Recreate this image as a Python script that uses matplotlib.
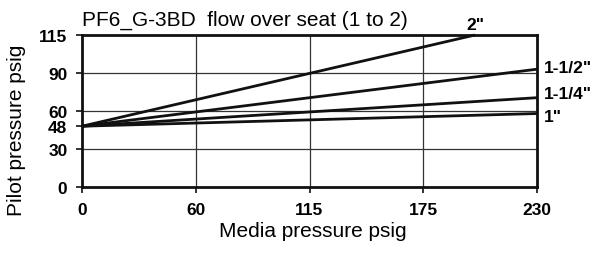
import numpy as np
import matplotlib
matplotlib.use('Agg')
import matplotlib.pyplot as plt

# 축 눈금 (눈금 간격이 균등하게 그려진 차트)
media_ticks = [0, 60, 115, 175, 230]
pilot_ticks = [0, 30, 60, 90, 115]
pilot_labels = [0, 30, 48, 60, 90, 115]

# 시트 크기별 직선: (0, 48) 에서 시작
sizes = ['1"', '1-1/4"', '1-1/2"', '2"']
start_media = 0
start_pilot = 48
end_media = [230, 230, 230, 200]
end_pilot = [58, 70.5, 92.5, 115]

plt.rcParams['font.family'] = ['Liberation Sans', 'DejaVu Sans']


def fwd_x(v):
    return np.interp(v, media_ticks, np.arange(len(media_ticks)))


def inv_x(v):
    return np.interp(v, np.arange(len(media_ticks)), media_ticks)


def fwd_y(v):
    return np.interp(v, pilot_ticks, np.arange(len(pilot_ticks)))


def inv_y(v):
    return np.interp(v, np.arange(len(pilot_ticks)), pilot_ticks)


fig = plt.figure(figsize=(6.04, 2.55), dpi=100)
ax = fig.add_axes([82 / 604, 1 - 188 / 255, 455 / 604, 152 / 255])
ax.set_xscale('function', functions=(fwd_x, inv_x))
ax.set_yscale('function', functions=(fwd_y, inv_y))
ax.set_xlim(0, 230)
ax.set_ylim(0, 115)

# 격자
for v in [30, 60, 90]:
    ax.axhline(v, color='#333333', lw=0.9, zorder=1)
for v in [60, 115, 175]:
    ax.axvline(v, color='#333333', lw=0.9, zorder=1)

for name, xe, ye in zip(sizes, end_media, end_pilot):
    ax.plot([start_media, xe], [start_pilot, ye], color='#111111', lw=2.0,
            solid_capstyle='butt', zorder=3, clip_on=False)

# 선 라벨
label_off = {'1"': (5, -2), '1-1/4"': (5, 3), '1-1/2"': (5, 1), '2"': (0, 7.5)}
for name, xe, ye in zip(sizes, end_media, end_pilot):
    dx, dy = label_off[name]
    ha = 'center' if name == '2"' else 'left'
    ax.annotate(name, (xe, ye), xytext=(dx, dy), textcoords='offset points',
                ha=ha, va='center', fontsize=12.5, fontweight='bold',
                annotation_clip=False)

ax.set_xticks(media_ticks)
ax.set_yticks(pilot_labels)
ax.set_xticklabels([str(v) for v in media_ticks], fontsize=12.5, fontweight='bold')
ax.set_yticklabels([str(v) for v in pilot_labels], fontsize=12.5, fontweight='bold')
ax.tick_params(axis='y', direction='out', length=4.5, width=1.2, color='#111111', pad=6)
ax.tick_params(axis='x', direction='out', length=4.5, width=1.2, color='#111111', pad=6)
ax.minorticks_off()

for s in ax.spines.values():
    s.set_linewidth(2.0)
    s.set_color('#111111')

fig.text(313 / 604, 1 - 232 / 255, 'Media pressure psig', fontsize=15,
         ha='center', va='center')
fig.text(17 / 604, 1 - 130 / 255, 'Pilot pressure psig', fontsize=15,
         ha='center', va='center', rotation=90)
fig.text(82 / 604, 1 - 20 / 255, 'PF6_G-3BD  flow over seat (1 to 2)',
         fontsize=15, ha='left', va='center')

fig.savefig('out.png', dpi=100)
